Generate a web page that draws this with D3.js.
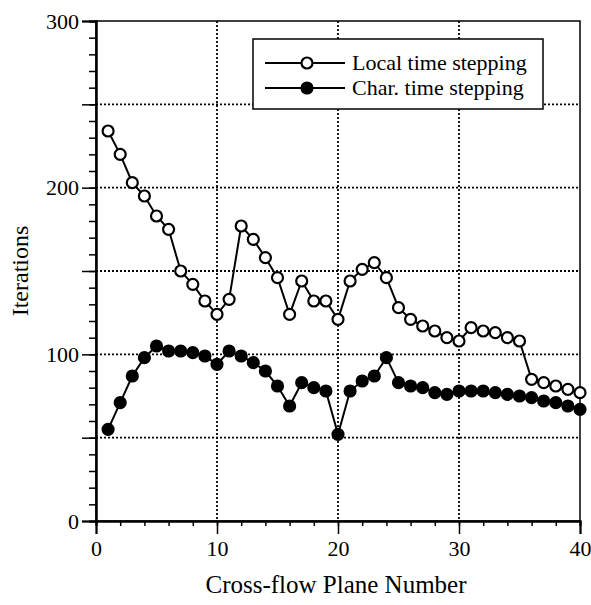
<!DOCTYPE html>
<html>
<head>
<meta charset="utf-8">
<script src="https://cdn.jsdelivr.net/npm/d3@7"></script>
<style>
	body { margin: 0; background: #fff; }
	text { font-family: "Liberation Serif", "DejaVu Serif", serif; fill: #000; }
</style>
</head>
<body>
<div id="chart_holder"></div>
<script>
//plane numbers along the bottom
var planes = [1,2,3,4,5,6,7,8,9,10,11,12,13,14,15,16,17,18,19,20,
	21,22,23,24,25,26,27,28,29,30,31,32,33,34,35,36,37,38,39,40];

//iterations
var localSteps = [234,220,203,195,183,175,150,142,132,124,133,177,169,158,146,124,144,132,132,121,
	144,151,155,146,128,121,117,114,110,108,116,114,113,110,108,85,83,81,79,77];
var charSteps = [55,71,87,98,105,102,102,101,99,94,102,99,95,90,81,69,83,80,78,52,
	78,84,87,98,83,81,80,77,76,78,78,78,77,76,75,74,72,71,69,67];

var xTicks = [0,10,20,30,40];
var yTicks = [0,100,200,300];
var seriesNames = ["Local time stepping", "Char. time stepping"];

var width = 591, height = 605;
//careful: "top" is taken by window.top, so prefix these
var plotLeft = 96, plotRight = 580, plotTop = 21, plotBottom = 521;

var svg = d3.select("#chart_holder").append("svg")
	.attr("width", width)
	.attr("height", height);

var x = d3.scaleLinear().domain([0, 40]).range([plotLeft, plotRight]);
var y = d3.scaleLinear().domain([0, 300]).range([plotBottom, plotTop]);

//dotted grid
var grid = svg.append("g")
	.attr("stroke", "#000")
	.attr("stroke-width", 1.8)
	.attr("stroke-dasharray", "2,2");

grid.selectAll(".vgrid")
	.data([10,20,30])
	.enter().append("line")
		.attr("x1", function(d){ return x(d); })
		.attr("x2", function(d){ return x(d); })
		.attr("y1", plotTop)
		.attr("y2", plotBottom);

grid.selectAll(".hgrid")
	.data([50,100,150,200,250])
	.enter().append("line")
		.attr("x1", plotLeft)
		.attr("x2", plotRight)
		.attr("y1", function(d){ return y(d); })
		.attr("y2", function(d){ return y(d); });

//frame
svg.append("rect")
	.attr("x", plotLeft).attr("y", plotTop)
	.attr("width", plotRight - plotLeft).attr("height", plotBottom - plotTop)
	.attr("fill", "none")
	.attr("stroke", "#000")
	.attr("stroke-width", 1.5);

//axes - minor ticks first then the big ones with labels on top
var xMinor = d3.axisBottom(x).tickValues(d3.range(0, 41, 2)).tickSize(5).tickFormat("");
var xMajor = d3.axisBottom(x).tickValues(xTicks).tickSize(13).tickPadding(6).tickFormat(d3.format("d"));
var yMinor = d3.axisLeft(y).tickValues(d3.range(0, 301, 10)).tickSize(7).tickFormat("");
var yMajor = d3.axisLeft(y).tickValues(d3.range(0, 301, 50)).tickSize(14).tickPadding(3)
	.tickFormat(function(d){ return yTicks.indexOf(d) >= 0 ? d : ""; });

[[xMinor, "x"], [xMajor, "x"], [yMinor, "y"], [yMajor, "y"]].forEach(function(a){
	var g = svg.append("g")
		.attr("transform", a[1] == "x" ? "translate(0," + plotBottom + ")" : "translate(" + plotLeft + ",0)")
		.call(a[0]);
	g.select(".domain").attr("stroke-width", 2);
	g.selectAll(".tick line").attr("stroke-width", 1.5);
	g.selectAll(".tick text")
		.style("font-family", "Liberation Serif")
		.style("font-size", "22px");
});

//axis titles
svg.append("text")
	.attr("x", (plotLeft + plotRight) / 2 - 2)
	.attr("y", 593)
	.attr("text-anchor", "middle")
	.style("font-size", "25px")
	.text("Cross-flow Plane Number");

svg.append("text")
	.attr("transform", "translate(28," + ((plotTop + plotBottom) / 2) + ") rotate(-90)")
	.attr("text-anchor", "middle")
	.style("font-size", "24px")
	.text("Iterations");

//the two series
var line = d3.line()
	.x(function(d){ return x(d[0]); })
	.y(function(d){ return y(d[1]); });

var series = [
	{ name: seriesNames[0], values: d3.zip(planes, localSteps), fill: "#fff" },
	{ name: seriesNames[1], values: d3.zip(planes, charSteps), fill: "#000" }
];

series.forEach(function(s){
	svg.append("path")
		.datum(s.values)
		.attr("d", line)
		.attr("fill", "none")
		.attr("stroke", "#000")
		.attr("stroke-width", 2);

	svg.selectAll(null)
		.data(s.values)
		.enter().append("circle")
			.attr("cx", function(d){ return x(d[0]); })
			.attr("cy", function(d){ return y(d[1]); })
			.attr("r", 5.5)
			.attr("fill", s.fill)
			.attr("stroke", "#000")
			.attr("stroke-width", 2.2);
});

//legend box
var legend = svg.append("g");
legend.append("rect")
	.attr("x", 253).attr("y", 39)
	.attr("width", 290).attr("height", 70)
	.attr("fill", "#fff")
	.attr("stroke", "#000")
	.attr("stroke-width", 1.5);

series.forEach(function(s, i){
	var ly = 63 + i * 25;
	legend.append("line")
		.attr("x1", 265).attr("x2", 345)
		.attr("y1", ly).attr("y2", ly)
		.attr("stroke", "#000")
		.attr("stroke-width", 2);
	legend.append("circle")
		.attr("cx", 307).attr("cy", ly)
		.attr("r", 5.5)
		.attr("fill", s.fill)
		.attr("stroke", "#000")
		.attr("stroke-width", 2.2);
	legend.append("text")
		.attr("x", 352)
		.attr("y", ly + 7)
		.style("font-size", "22px")
		.text(s.name);
});
</script>
</body>
</html>
